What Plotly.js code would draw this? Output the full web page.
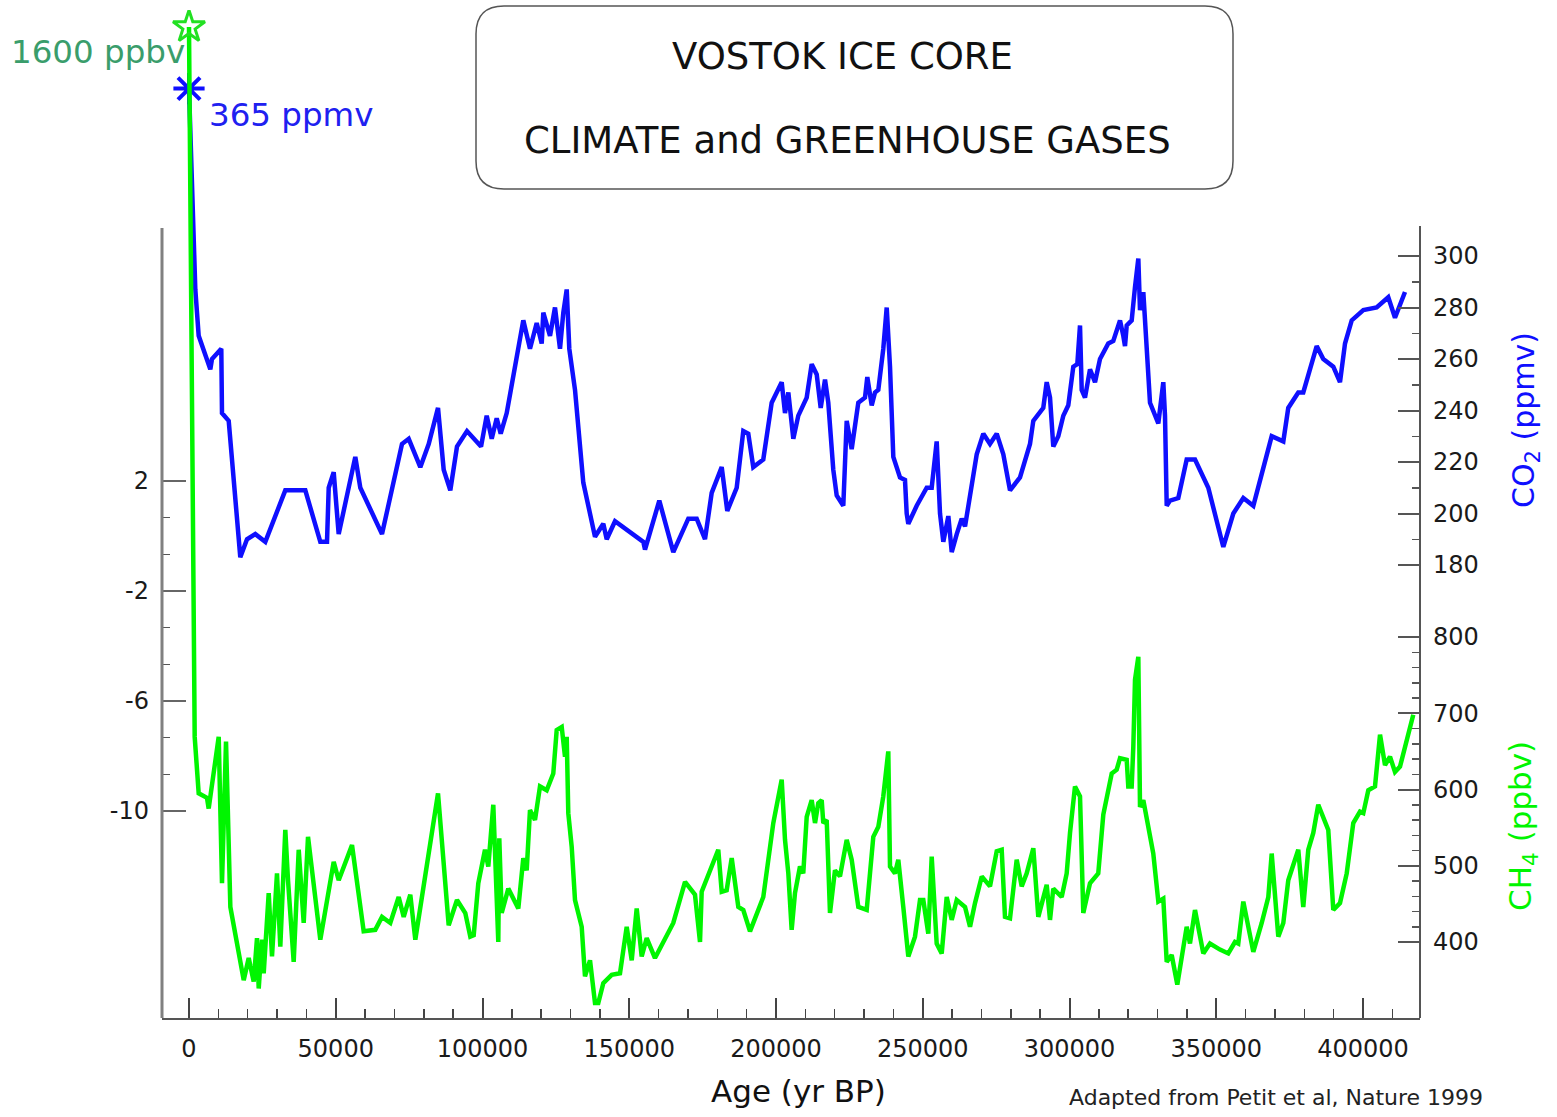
<!DOCTYPE html>
<html>
<head>
<meta charset="utf-8">
<script src="https://cdn.plot.ly/plotly-3.0.1.min.js"></script>
<style>html,body{margin:0;padding:0;background:#fff;}#chart{width:1557px;height:1117px;}</style>
</head>
<body>
<div id="chart"></div>
<script>
// ---- Data ----
const co2Age = [0,2150,3300,7260,7840,11000,11240,13530,17480,19760,22590,26000,32810,39630,44740,47020,47600,49300,51000,56660,58370,65760,72570,74860,78810,81670,84840,86780,89030,91310,94720,99500,101430,103140,104840,106200,108250,111650,113900,116180,118470,120170,120720,123000,124700,126410,127530,128690,129570,131520,134340,138330,141160,142320,145150,154790,155370,160240,165010,170120,172980,175810,178090,181500,183400,186610,188860,190560,192260,195670,198530,201940,203070,204200,205900,207600,210460,212160,213870,215230,216700,217820,219520,220680,222930,224090,225790,228040,230320,231110,232610,233730,234860,236560,237720,238840,239970,242250,243950,244530,245080,247940,251350,253050,254750,255880,257010,258720,259870,261580,263280,264410,268390,270640,272910,275200,277450,279730,283130,286540,287670,291070,292230,293360,294480,296180,297890,299590,301290,302660,303580,304160,305280,306980,308690,310390,313220,314920,317210,318330,318910,319490,321190,322320,323450,324020,325150,325730,327430,330260,331960,332540,333120,334240,337070,339930,342760,347290,352410,355810,359220,362630,368890,372850,374540,377950,379650,384220,386470,389880,392160,393870,396150,400110,404640,408610,410900,414310];
const co2Ppmv = [365,287,269,256,260,264,239,236,183,190,192,189,209,209,189,189,210,216,192,222,210,192,227,229,218,227,241,217,209,226,232,226,238,229,237,231,239,261,275,264,274,266,278,269,280,264,278,287,264,248,212,191,196,190,197,189,186,205,185,198,198,190,208,218,201,210,232,231,218,221,243,251,239,247,229,238,245,258,254,241,252,243,217,207,203,236,225,243,245,253,242,247,248,264,280,257,222,214,213,200,196,203,210,210,228,200,189,199,185,192,198,195,223,231,227,231,223,209,214,227,236,241,251,245,226,230,238,242,257,258,273,248,245,256,251,260,266,267,275,269,265,273,275,288,299,279,286,275,243,235,251,238,203,205,206,221,221,210,187,200,206,203,230,228,241,247,247,265,260,257,251,266,275,279,280,284,276,286];

const ch4Age = [0,1940,3300,6130,6710,10120,11240,12610,13290,14090,18640,20340,22040,23170,23750,24870,25450,27160,28280,29980,31110,32810,33730,35670,37380,39080,40550,44740,49300,51000,55540,59520,63470,65760,68590,71440,73150,75400,77110,84840,88480,91310,94140,95840,97000,98570,100850,101980,103680,105380,105720,106540,108790,112200,113900,115060,116180,117890,119590,121870,124120,125280,126990,128110,128690,129230,130390,131520,133800,134920,136630,138330,139450,141160,144020,146850,149130,150840,152540,154240,155950,158770,165010,169000,172400,174110,174680,180330,181500,183200,184910,187160,188860,191140,195670,199080,201940,203070,204200,205340,206460,208170,209290,210460,212160,213290,214410,215570,216110,217270,218400,220100,221800,224090,225790,228040,230900,233150,234860,236560,238260,238840,240550,241670,243370,245080,247360,249060,250190,251890,253050,254750,256460,258160,259870,261580,264410,266110,267810,270100,272910,275200,276900,278020,279730,282010,283710,285420,287670,289370,292230,293360,294480,297340,299040,300170,301870,303580,304700,306980,309800,311520,314380,316080,317210,319490,320030,321190,321740,322320,323450,324020,325150,328550,330260,331960,333120,334820,336730,339930,341050,342760,345590,347860,351270,354100,356380,357500,359220,362630,365490,367740,368890,371140,372850,374540,377950,379650,381360,383060,384760,388170,389880,392160,394450,396690,398970,400110,401810,404090,405800,407500,409200,410900,412610,417130];
const ch4Ppbv = [1600,669,595,589,575,669,477,663,564,446,350,379,348,405,339,403,359,464,381,490,394,547,481,374,521,425,538,403,505,481,527,414,416,433,425,459,433,462,403,595,422,455,438,407,409,477,521,499,580,400,536,438,470,444,510,494,573,560,604,599,621,678,682,643,669,569,525,455,420,355,376,320,320,346,357,359,420,376,444,381,405,379,425,479,462,400,466,521,466,468,510,446,442,414,459,556,613,534,490,416,464,499,490,564,586,556,582,586,556,560,438,494,486,534,508,446,442,538,551,591,650,499,490,508,446,381,407,455,455,411,512,398,385,459,429,455,446,420,451,486,473,519,521,433,431,508,473,490,523,433,475,429,470,459,490,543,604,591,438,477,490,567,621,626,641,639,604,604,656,744,774,577,586,516,453,457,374,383,344,420,398,442,385,398,390,385,400,398,453,387,425,459,516,407,425,481,521,446,521,543,580,547,442,451,490,556,571,569,599,604,672,632,643,623,630,698];

// ---- Tick labels ----
const ageTicks = [0,50000,100000,150000,200000,250000,300000,350000,400000];
const tempTicks = [2,-2,-6,-10];
const co2Ticks = [180,200,220,240,260,280,300];
const ch4Ticks = [400,500,600,700,800];

// ---- Layout geometry (pixels of the 1557x1117 page) ----
const W = 1557, H = 1117;
const L = 162, R = 1420, T = 10, B = 1018;
const pw = R - L, ph = B - T;
const px = v => (v - L) / pw;      // page x -> paper x
const py = v => (B - v) / ph;      // page y -> paper y

const ageMinor = [];
for (let a = 10000; a <= 410000; a += 10000) if (a % 50000 !== 0) ageMinor.push(a);
const tempMinor = [];
for (let i = 0; i < tempTicks.length - 1; i++) {
  const s = (tempTicks[i+1] - tempTicks[i]) / 3;
  tempMinor.push(tempTicks[i] + s, tempTicks[i] + 2*s);
}
const co2Minor = [];
for (let i = 0; i < co2Ticks.length - 1; i++) co2Minor.push((co2Ticks[i] + co2Ticks[i+1]) / 2);
const ch4Minor = [];
for (let i = 0; i < ch4Ticks.length - 1; i++)
  for (let k = 1; k < 5; k++) ch4Minor.push(ch4Ticks[i] + k * (ch4Ticks[i+1] - ch4Ticks[i]) / 5);

const FONT = 'DejaVu Sans, Liberation Sans, Arial, sans-serif';
const tickFont = {family: FONT, size: 24, color: '#1a1a1a'};
const BLUE = '#0f0fff', GREEN = '#00f500';

const traces = [
  // temperature axis carrier (no temperature curve is drawn in the reference)
  {x: [null], y: [null], yaxis: 'y', type: 'scatter', mode: 'lines', hoverinfo: 'skip', showlegend: false},
  {x: co2Age, y: co2Ppmv, yaxis: 'y2', type: 'scatter', mode: 'lines',
   line: {color: BLUE, width: 4.5}, hoverinfo: 'skip'},
  {x: ch4Age, y: ch4Ppbv, yaxis: 'y3', type: 'scatter', mode: 'lines',
   line: {color: GREEN, width: 4.5}, hoverinfo: 'skip'},
  {x: [ch4Age[0]], y: [ch4Ppbv[0]], yaxis: 'y3', type: 'scatter', mode: 'markers',
   marker: {symbol: 'star-open', size: 24, color: '#22e022', line: {color: '#22e022', width: 3}}, hoverinfo: 'skip'},
  {x: [co2Age[0]], y: [co2Ppmv[0]], yaxis: 'y2', type: 'scatter', mode: 'markers',
   marker: {symbol: 'asterisk-open', size: 26, color: BLUE, line: {color: BLUE, width: 4}}, hoverinfo: 'skip'}
];

// axis ranges from pixel calibration
const xPerPx = 50000 / 146.75;
const xRange = [(L - 189) * xPerPx, (R - 189) * xPerPx];
const tPerPx = 4 / 110;
const tRange = [2 - (B - 481) * tPerPx, 2 + (481 - T) * tPerPx];
const cPerPx = 20 / 51.5;
const cRange = [300 - (B - 256) * cPerPx, 300 + (256 - T) * cPerPx];
const mPerPx = 100 / 76.25;
const mRange = [800 - (B - 637) * mPerPx, 800 + (637 - T) * mPerPx];

const rr = 28, rx = rr / pw, ry = rr / ph;
const bx0 = px(476), bx1 = px(1233), by0 = py(189), by1 = py(6);
const boxPath = `M ${bx0+rx},${by1} L ${bx1-rx},${by1} Q ${bx1},${by1} ${bx1},${by1-ry} L ${bx1},${by0+ry} Q ${bx1},${by0} ${bx1-rx},${by0} L ${bx0+rx},${by0} Q ${bx0},${by0} ${bx0},${by0+ry} L ${bx0},${by1-ry} Q ${bx0},${by1} ${bx0+rx},${by1} Z`;

const layout = {
  width: W, height: H,
  margin: {l: L, r: W - R, t: T, b: H - B, pad: 0},
  paper_bgcolor: '#ffffff', plot_bgcolor: 'rgba(0,0,0,0)',
  showlegend: false, hovermode: false,
  xaxis: {
    range: xRange, showgrid: false, zeroline: false,
    showline: true, linecolor: '#555', linewidth: 2,
    tickmode: 'array', tickvals: ageTicks, ticktext: ageTicks.map(String),
    ticks: 'inside', ticklen: 20, tickwidth: 2, tickcolor: '#444',
    tickfont: tickFont, ticklabelstandoff: 8,
    minor: {tickmode: 'array', tickvals: ageMinor, ticks: 'inside', ticklen: 9, tickwidth: 1.5, tickcolor: '#444', showgrid: false},
    automargin: false
  },
  yaxis: {
    range: tRange, showgrid: false, zeroline: false, showline: false,
    tickmode: 'array', tickvals: tempTicks, ticktext: tempTicks.map(String),
    ticks: 'inside', ticklen: 24, tickwidth: 2, tickcolor: '#666',
    tickfont: tickFont, ticklabelstandoff: 12,
    minor: {tickmode: 'array', tickvals: tempMinor, ticks: 'inside', ticklen: 8, tickwidth: 1.5, tickcolor: '#555', showgrid: false},
    automargin: false
  },
  yaxis2: {
    overlaying: 'y', side: 'right', anchor: 'x',
    range: cRange, showgrid: false, zeroline: false, showline: false,
    tickmode: 'array', tickvals: co2Ticks, ticktext: co2Ticks.map(String),
    ticks: 'inside', ticklen: 22, tickwidth: 2, tickcolor: '#555',
    tickfont: tickFont, ticklabelstandoff: 12,
    minor: {tickmode: 'array', tickvals: co2Minor, ticks: 'inside', ticklen: 8, tickwidth: 1.5, tickcolor: '#555', showgrid: false},
    automargin: false
  },
  yaxis3: {
    overlaying: 'y', side: 'right', anchor: 'x',
    range: mRange, showgrid: false, zeroline: false, showline: false,
    tickmode: 'array', tickvals: ch4Ticks, ticktext: ch4Ticks.map(String),
    ticks: 'inside', ticklen: 22, tickwidth: 2, tickcolor: '#555',
    tickfont: tickFont, ticklabelstandoff: 12,
    minor: {tickmode: 'array', tickvals: ch4Minor, ticks: 'inside', ticklen: 8, tickwidth: 1.5, tickcolor: '#555', showgrid: false},
    automargin: false
  },
  shapes: [
    {type: 'line', xref: 'paper', yref: 'paper', x0: 0, x1: 0, y0: 0, y1: py(228), line: {color: '#808080', width: 3}},
    {type: 'line', xref: 'paper', yref: 'paper', x0: 1, x1: 1, y0: 0, y1: py(226), line: {color: '#555', width: 2}},
    {type: 'path', xref: 'paper', yref: 'paper', path: boxPath, line: {color: '#555', width: 1.5}, fillcolor: 'rgba(0,0,0,0)'}
  ],
  annotations: [
    {xref: 'paper', yref: 'paper', x: px(842), y: py(57), text: 'VOSTOK ICE CORE', showarrow: false,
     xanchor: 'center', yanchor: 'middle', font: {family: FONT, size: 37, color: '#111'}},
    {xref: 'paper', yref: 'paper', x: px(847), y: py(140), text: 'CLIMATE and GREENHOUSE GASES', showarrow: false,
     xanchor: 'center', yanchor: 'middle', font: {family: FONT, size: 37, color: '#111'}},
    {xref: 'paper', yref: 'paper', x: px(98), y: py(52), text: '1600 ppbv', showarrow: false,
     xanchor: 'center', yanchor: 'middle', font: {family: FONT, size: 32.5, color: '#3a9d6b'}},
    {xref: 'paper', yref: 'paper', x: px(291), y: py(115), text: '365 ppmv', showarrow: false,
     xanchor: 'center', yanchor: 'middle', font: {family: FONT, size: 32.5, color: '#2020f0'}},
    {xref: 'paper', yref: 'paper', x: px(1525), y: py(420), text: 'CO<sub>2</sub> (ppmv)', showarrow: false, textangle: -90,
     xanchor: 'center', yanchor: 'middle', font: {family: FONT, size: 30, color: BLUE}},
    {xref: 'paper', yref: 'paper', x: px(1522), y: py(826), text: 'CH<sub>4</sub> (ppbv)', showarrow: false, textangle: -90,
     xanchor: 'center', yanchor: 'middle', font: {family: FONT, size: 31, color: GREEN}},
    {xref: 'paper', yref: 'paper', x: px(798), y: py(1091), text: 'Age (yr BP)', showarrow: false,
     xanchor: 'center', yanchor: 'middle', font: {family: FONT, size: 31, color: '#111'}},
    {xref: 'paper', yref: 'paper', x: px(1276), y: py(1097), text: 'Adapted from Petit et al, Nature 1999', showarrow: false,
     xanchor: 'center', yanchor: 'middle', font: {family: FONT, size: 22, color: '#222'}}
  ]
};

Plotly.newPlot('chart', traces, layout, {displayModeBar: false, staticPlot: true});
</script>
</body>
</html>
